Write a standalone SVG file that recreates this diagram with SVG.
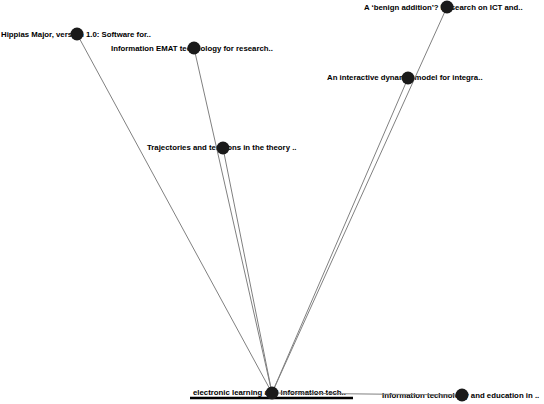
<svg xmlns="http://www.w3.org/2000/svg" width="544" height="404" viewBox="0 0 544 404">
<style>
.lbl{font-family:"Liberation Sans",Arial,sans-serif;font-size:7.8px;font-weight:bold;fill:#000}
.edge{stroke:#808080;stroke-width:1;fill:none}
.node{fill:#1a1a1a}
</style>
<rect width="544" height="404" fill="#fff"/>
<g id="labels">
<text class="lbl" x="1" y="37">Hippias Major, version 1.0: Software for..</text>
<text class="lbl" x="111" y="51">Information EMAT technology for research..</text>
<text class="lbl" x="364" y="9.5">A ‘benign addition’? Research on ICT and..</text>
<text class="lbl" x="327" y="80">An interactive dynamic model for integra..</text>
<text class="lbl" x="147" y="149.5">Trajectories and tensions in the theory ..</text>
<text class="lbl" x="193" y="395">electronic learning and information tech..</text>
<text class="lbl" x="382" y="398">Information technology and education in ..</text>
</g>
<g id="connectors">
<line class="edge" x1="77" y1="34" x2="272" y2="393"/>
<line class="edge" x1="194" y1="48" x2="272" y2="393"/>
<line class="edge" x1="223" y1="148" x2="272" y2="393"/>
<line class="edge" x1="447" y1="7" x2="272" y2="393"/>
<line class="edge" x1="408" y1="78" x2="272" y2="393"/>
<line class="edge" x1="272" y1="393" x2="462" y2="395"/>
<line x1="190" y1="398" x2="353" y2="398" stroke="#000" stroke-width="2.5"/>
</g>
<g id="n-hippias"><circle class="node" cx="77" cy="34" r="6.5"/></g>
<g id="n-emat"><circle class="node" cx="194" cy="48" r="6.5"/></g>
<g id="n-benign"><circle class="node" cx="447" cy="7" r="6.5"/></g>
<g id="n-interactive"><circle class="node" cx="408" cy="78" r="6.5"/></g>
<g id="n-trajectories"><circle class="node" cx="223" cy="148" r="6.5"/></g>
<g id="n-electronic"><circle class="node" cx="272" cy="393" r="6.5"/></g>
<g id="n-infotech"><circle class="node" cx="462" cy="395" r="6.5"/></g>
</svg>
